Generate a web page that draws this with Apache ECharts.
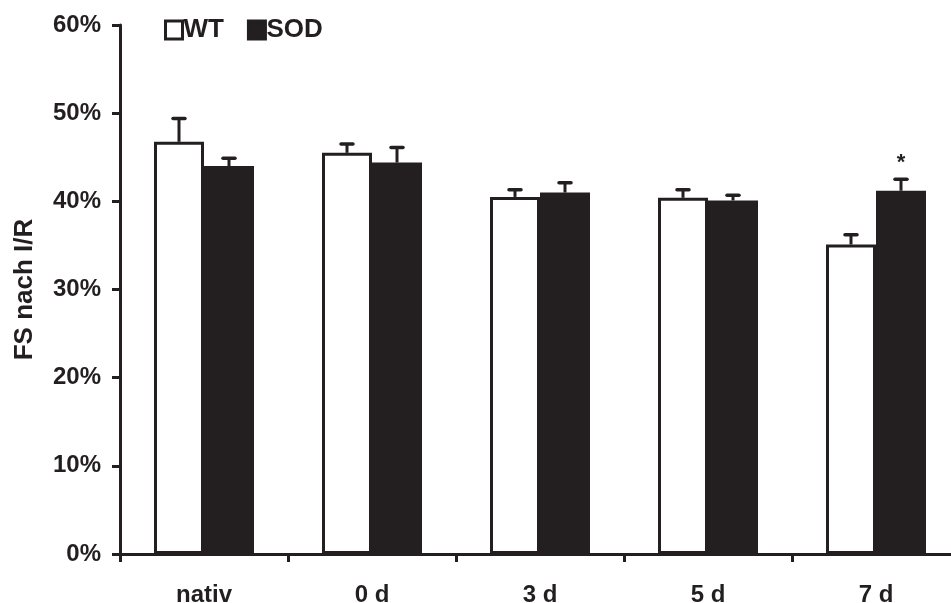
<!DOCTYPE html>
<html>
<head>
<meta charset="utf-8">
<script src="https://cdn.jsdelivr.net/npm/echarts@6/dist/echarts.min.js"></script>
<style>
html,body{margin:0;padding:0;background:#fff;}
#chart{width:951px;height:603px;}
</style>
</head>
<body>
<div id="chart"></div>
<script>
const categories = ['nativ', '0 d', '3 d', '5 d', '7 d'];
const wtValues = [46.75, 45.5, 40.5, 40.4, 35.1];
const wtErrors = [2.65, 1.0, 0.8, 0.9, 1.1];
const sodValues = [44.0, 44.4, 41.0, 40.1, 41.2];
const sodErrors = [0.9, 1.7, 1.1, 0.6, 1.3];
const sodSignificance = ['', '', '', '', '*'];
const yTicks = [0, 10, 20, 30, 40, 50, 60];

const INK = '#231f20';
const BAR_W = 50;
const FONT = '"Liberation Sans", Arial, sans-serif';

function errorSeries(name, values, errors, offset, marks) {
  return {
    type: 'custom',
    name: name + ' err',
    z: 5,
    silent: true,
    data: values.map((v, i) => [i, v, errors[i]]),
    renderItem: function (params, api) {
      const i = api.value(0);
      const v = api.value(1);
      const e = api.value(2);
      const base = api.coord([i, v]);
      const top = api.coord([i, v + e]);
      const x = base[0] + offset;
      const children = [
        { type: 'line', shape: { x1: x, y1: base[1], x2: x, y2: top[1] },
          style: { stroke: INK, lineWidth: 3 } },
        { type: 'line', shape: { x1: x - 6, y1: top[1], x2: x + 6, y2: top[1] },
          style: { stroke: INK, lineWidth: 3.5, lineCap: 'round' } }
      ];
      const mark = marks ? marks[params.dataIndex] : '';
      if (mark) {
        children.push({ type: 'text', style: { text: mark, x: x, y: top[1] - 5,
          fill: INK, font: 'bold 22px ' + FONT, align: 'center', verticalAlign: 'bottom' } });
      }
      return { type: 'group', children: children };
    }
  };
}

const chart = echarts.init(document.getElementById('chart'));
chart.setOption({
  animation: false,
  backgroundColor: '#fff',
  textStyle: { fontFamily: FONT },
  grid: { left: 120, width: 840, top: 25, bottom: 49, containLabel: false, outerBoundsMode: 'none' },
  legend: {
    left: 159, top: 12,
    itemWidth: 17, itemHeight: 18, itemGap: 23,
    icon: 'rect',
    data: ['WT', 'SOD'],
    itemStyle: { borderWidth: 3, borderColor: INK },
    textStyle: { color: INK, fontSize: 26, fontWeight: 'bold', fontFamily: FONT, padding: [2, 0, 0, -4] },
    selectedMode: false
  },
  xAxis: {
    type: 'category',
    data: categories,
    axisLine: { lineStyle: { color: INK, width: 3 } },
    axisTick: { show: true, length: 8, lineStyle: { color: INK, width: 3 } },
    axisLabel: { color: INK, fontSize: 24, fontWeight: 'bold', margin: 29 },
    splitLine: { show: false }
  },
  yAxis: {
    type: 'value',
    min: yTicks[0], max: yTicks[yTicks.length - 1], interval: 10,
    name: 'FS nach I/R',
    nameLocation: 'middle',
    nameGap: 82,
    nameRotate: 90,
    nameTextStyle: { color: INK, fontSize: 26, fontWeight: 'bold' },
    axisLine: { show: true, lineStyle: { color: INK, width: 3 } },
    axisTick: { show: true, length: 8, lineStyle: { color: INK, width: 3 } },
    axisLabel: { color: INK, fontSize: 24, fontWeight: 'bold', margin: 19, formatter: '{value}%' },
    splitLine: { show: false }
  },
  series: [
    { type: 'bar', name: 'WT', data: wtValues, barWidth: BAR_W, barGap: '0%',
      itemStyle: { color: '#fff', borderColor: INK, borderWidth: 3 } },
    { type: 'bar', name: 'SOD', data: sodValues, barWidth: BAR_W, barGap: '0%',
      itemStyle: { color: INK, borderColor: INK, borderWidth: 0 } },
    errorSeries('WT', wtValues, wtErrors, -BAR_W / 2, null),
    errorSeries('SOD', sodValues, sodErrors, BAR_W / 2, sodSignificance)
  ]
});
</script>
</body>
</html>
